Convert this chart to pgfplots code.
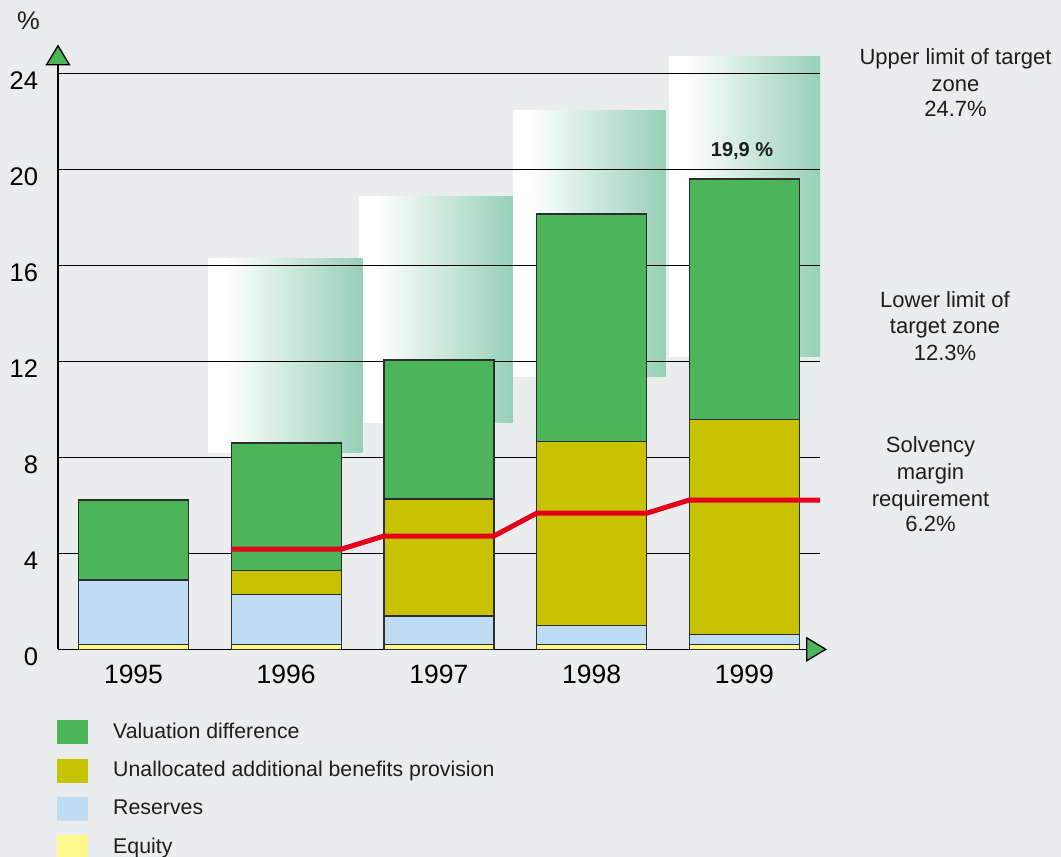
\documentclass[border=0pt]{standalone}
\usepackage{fontspec}
\setmainfont{Liberation Sans}
\usepackage{pgfplots}
\pgfplotsset{compat=1.18}
\usetikzlibrary{arrows.meta}
\definecolor{bg}{RGB}{235,236,238}
\definecolor{valgreen}{RGB}{76,181,90}
\definecolor{olive}{RGB}{200,194,0}
\definecolor{resblue}{RGB}{190,220,243}
\definecolor{eqyellow}{RGB}{255,246,140}
\definecolor{solvred}{RGB}{226,0,26}
\definecolor{zonegreen}{RGB}{150,208,184}
\definecolor{arrowgreen}{RGB}{76,181,90}
\definecolor{edge}{RGB}{45,45,45}
\definecolor{txt}{RGB}{30,30,30}
\pgfdeclarehorizontalshading{zone}{100bp}{color(0bp)=(white); color(25bp)=(white); color(30.5bp)=(white); color(75bp)=(zonegreen); color(100bp)=(zonegreen)}
\pgfplotsset{frame/.style={
  at={(58pt,207.7pt)}, anchor=south west,
  scale only axis, width=762pt, height=604.8pt,
  xmin=1994.5056, xmax=1999.4957, ymin=0, ymax=25.2}}
\begin{document}
\begin{tikzpicture}
\fill[bg] (0,0) rectangle (1061pt,857pt);
% target zones (lower limit to upper limit), behind the grid
\begin{axis}[frame, hide axis]
\addplot[draw=none, shade, shading=zone]
  coordinates {(1998.507,12.2) (1999.5,12.2) (1999.5,24.7) (1998.507,24.7) (1998.507,12.2)};
\addplot[draw=none, shade, shading=zone]
  coordinates {(1997.485,11.35) (1998.487,11.35) (1998.487,22.44) (1997.485,22.44) (1997.485,11.35)};
\addplot[draw=none, shade, shading=zone]
  coordinates {(1996.48,9.47) (1997.485,9.47) (1997.485,18.85) (1996.48,18.85) (1996.48,9.47)};
\addplot[draw=none, shade, shading=zone]
  coordinates {(1995.49,8.2) (1996.50,8.2) (1996.50,16.3) (1995.49,16.3) (1995.49,8.2)};
\end{axis}
\begin{axis}[
  frame,
  axis lines*=left,
  axis line style={line width=1.3pt, black},
  x axis line style={-{Triangle[length=21pt,width=25pt,fill=arrowgreen]}, shorten >=-7pt},
  y axis line style={-{Triangle[length=21pt,width=25pt,fill=arrowgreen]}},
  xtick={1995,1996,1997,1998,1999},
  xticklabels={1995,1996,1997,1998,1999},
  ytick={0,4,...,24},
  major tick length=0pt,
  ymajorgrids,
  major grid style={black, line width=1.2pt},
  xticklabel style={font=\fontsize{26.5}{30}\selectfont, text=black, anchor=north, inner sep=0pt, yshift=-15.7pt},
  yticklabel style={font=\fontsize{25.5}{30}\selectfont, text=black, anchor=east, inner sep=0pt, xshift=-19.7pt, yshift=-7.3pt},
  /pgf/number format/assume math mode=true,
  legend cell align=left,
  legend style={at={(-0.0017,-0.1169)}, anchor=north west, draw=none, fill=none,
    inner sep=0pt, row sep=14.3pt, column sep=25pt, text=txt,
    font=\fontsize{21.3}{25}\selectfont,
    nodes={inner sep=0pt, text height=15pt, text depth=5pt, anchor=base west}},
]
% cumulative bar tops
\addplot[ybar, bar width=0.72, bar shift=0pt, fill=valgreen, draw=edge, line width=1.3pt,
  legend image code/.code={\fill[valgreen] (0pt,-5.4pt) rectangle (30pt,17.3pt);}]
  coordinates {(1995,6.22) (1996,8.6) (1997,12.05) (1998,18.14) (1999,19.6)};
\addlegendentry{Valuation difference}
\addplot[ybar, bar width=0.72, bar shift=0pt, fill=olive, draw=edge, line width=1.3pt,
  legend image code/.code={\fill[olive] (0pt,-5.4pt) rectangle (30pt,17.3pt);}]
  coordinates {(1995,2.89) (1996,3.28) (1997,6.26) (1998,8.67) (1999,9.58)};
\addlegendentry{Unallocated additional benefits provision}
\addplot[ybar, bar width=0.72, bar shift=0pt, fill=resblue, draw=edge, line width=1.3pt,
  legend image code/.code={\fill[resblue] (0pt,-5.4pt) rectangle (30pt,17.3pt);}]
  coordinates {(1995,2.89) (1996,2.28) (1997,1.39) (1998,1.0) (1999,0.61)};
\addlegendentry{Reserves}
\addplot[ybar, bar width=0.72, bar shift=0pt, fill=eqyellow, draw=edge, line width=1.3pt,
  legend image code/.code={\fill[eqyellow] (0pt,-5.4pt) rectangle (30pt,17.3pt);}]
  coordinates {(1995,0.19) (1996,0.19) (1997,0.19) (1998,0.19) (1999,0.19)};
\addlegendentry{Equity}
% solvency margin requirement
\addplot[forget plot, solvred, line width=5pt]
  coordinates {(1995.64,4.17) (1996.36,4.17) (1996.64,4.72) (1997.36,4.72) (1997.64,5.67) (1998.36,5.67) (1998.64,6.22) (1999.4957,6.22)};
\node[anchor=base, font=\bfseries\fontsize{20}{24}\selectfont, text=txt] at (axis cs:1998.985,20.55) {19,9 \%};
\end{axis}
\begin{scope}[every node/.style={anchor=base, inner sep=0pt, text=txt, font=\fontsize{22}{26}\selectfont}]
\node at (28.5pt,827pt) {\fontsize{25.5}{30}\selectfont\%};
\node at (955.5pt,792.7pt) {Upper limit of target};
\node at (955.5pt,765.3pt) {zone};
\node at (955.5pt,740.3pt) {24.7\%};
\node at (945pt,549.7pt) {Lower limit of};
\node at (945pt,523.7pt) {target zone};
\node at (945pt,496.3pt) {12.3\%};
\node at (930.5pt,404.3pt) {Solvency};
\node at (930.5pt,377.7pt) {margin};
\node at (930.5pt,350.3pt) {requirement};
\node at (930.5pt,325.3pt) {6.2\%};
\end{scope}
\pgfresetboundingbox
\path[use as bounding box] (0,0) rectangle (1061pt,857pt);
\end{tikzpicture}
\end{document}
